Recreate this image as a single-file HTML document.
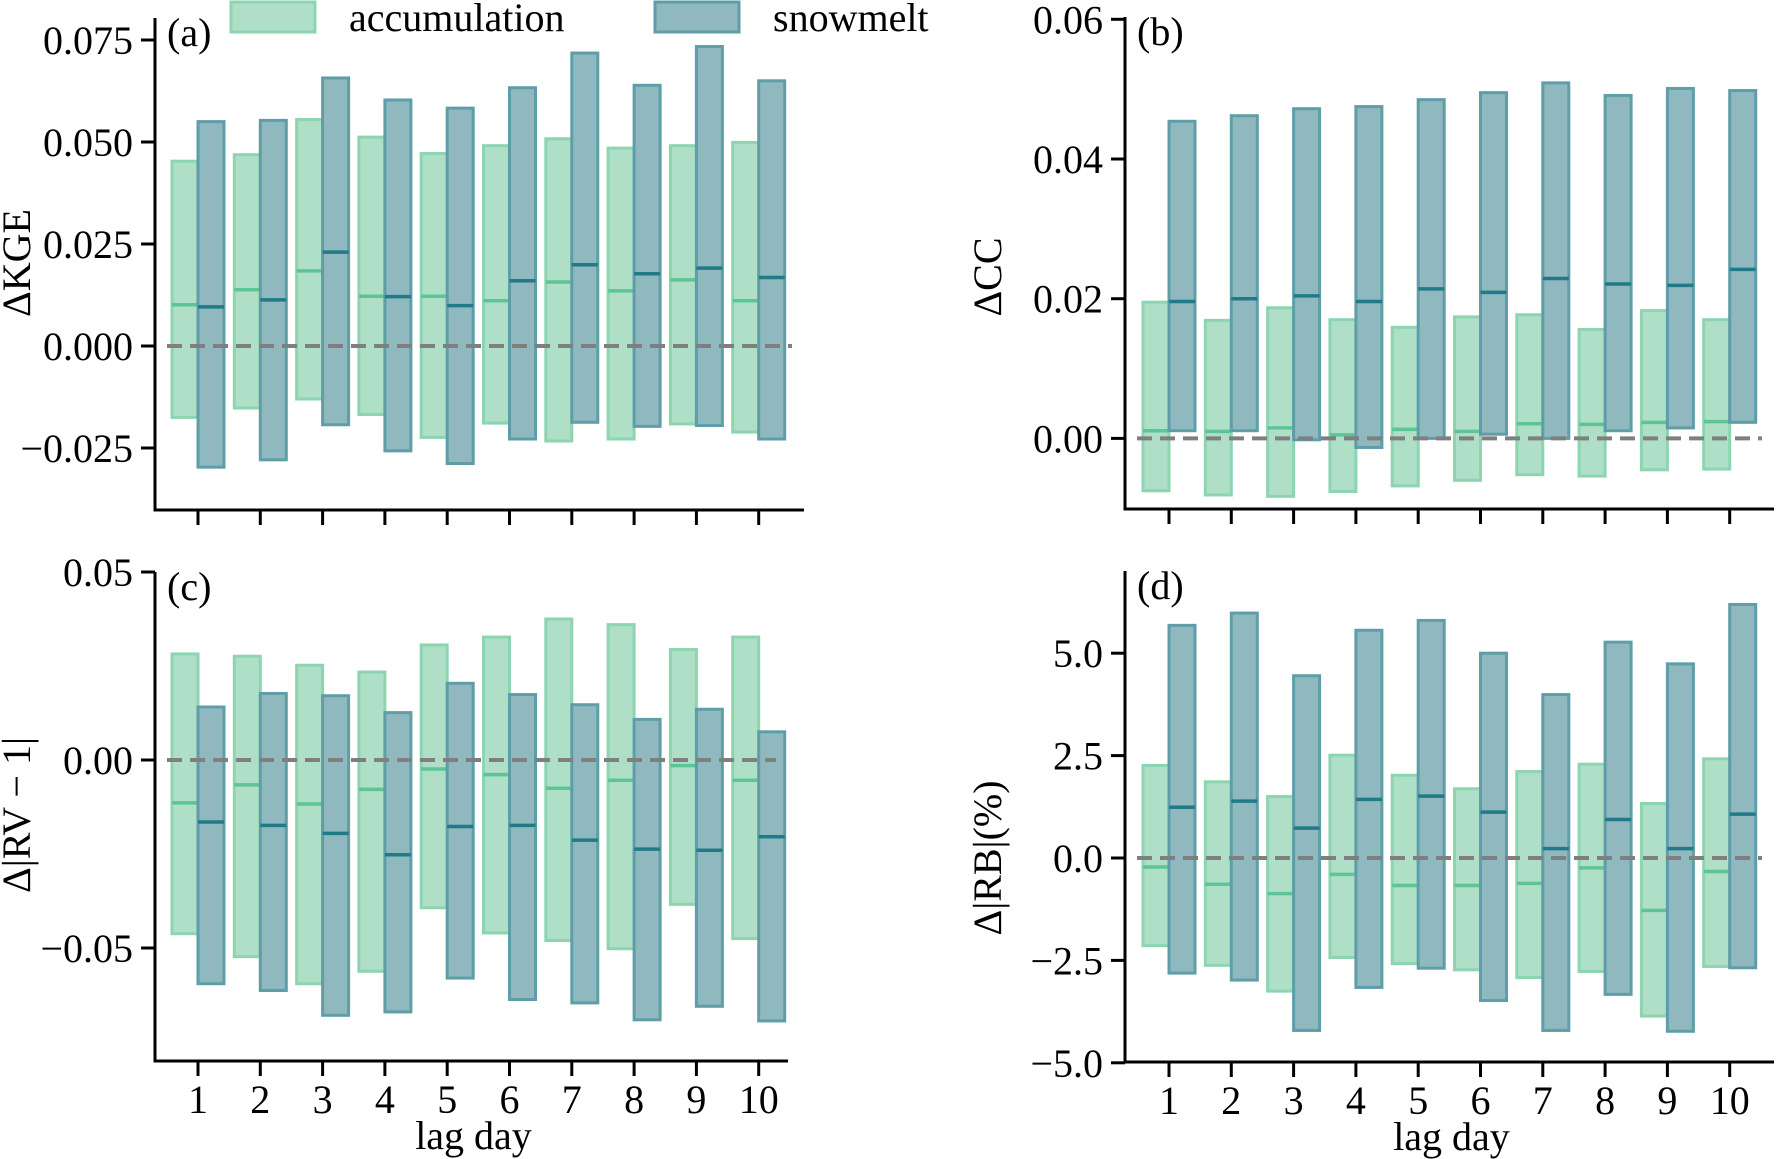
<!DOCTYPE html>
<html><head><meta charset="utf-8"><style>
html,body{margin:0;padding:0;background:#fff;}
svg{display:block;font-family:"Liberation Serif","Times New Roman","Nimbus Roman","Nimbus Roman No9 L","DejaVu Serif",serif;}
</style></head><body>
<svg id="fig" width="1776" height="1159" viewBox="0 0 1776 1159" xmlns="http://www.w3.org/2000/svg">
<g>
<rect x="231" y="2" width="84" height="30" fill="#afdfc7" stroke="#8cd5b0" stroke-width="3"/>
<text x="349" y="31" font-size="40">accumulation</text>
<rect x="655" y="2" width="84" height="30" fill="#8fb8bf" stroke="#5f9ea8" stroke-width="3"/>
<text x="773" y="31" font-size="40">snowmelt</text>
</g>
</svg>
<script>
const days = [1,2,3,4,5,6,7,8,9,10];
// panel a: KGE
const aAccLow = [-0.0175,-0.0152,-0.0130,-0.0168,-0.0224,-0.0189,-0.0233,-0.0228,-0.0191,-0.0211];
const aAccMed = [0.0101,0.0138,0.0184,0.0122,0.0122,0.0111,0.0157,0.0135,0.0162,0.0111];
const aAccHigh = [0.0453,0.0469,0.0555,0.0512,0.0472,0.0491,0.0508,0.0485,0.0491,0.0499];
const aSnowLow = [-0.0297,-0.0279,-0.0193,-0.0257,-0.0288,-0.0228,-0.0187,-0.0197,-0.0195,-0.0228];
const aSnowMed = [0.0096,0.0113,0.0230,0.0121,0.0099,0.0160,0.0199,0.0177,0.0191,0.0168];
const aSnowHigh = [0.0550,0.0553,0.0657,0.0603,0.0583,0.0633,0.0718,0.0639,0.0734,0.0650];
const aTicks = ["0.075","0.050","0.025","0.000","\u22120.025"];
const aTickVals = [0.075,0.05,0.025,0,-0.025];
// panel b: CC
const bAccLow = [-0.0075,-0.0081,-0.0083,-0.0076,-0.0068,-0.0060,-0.0052,-0.0054,-0.0045,-0.0044];
const bAccMed = [0.0011,0.0010,0.0015,0.0005,0.0013,0.0010,0.0021,0.0020,0.0023,0.0024];
const bAccHigh = [0.0195,0.0169,0.0187,0.0170,0.0159,0.0174,0.0177,0.0156,0.0183,0.0170];
const bSnowLow = [0.0011,0.0011,-0.0002,-0.0013,0.0000,0.0006,0.0000,0.0011,0.0015,0.0023];
const bSnowMed = [0.0196,0.0200,0.0204,0.0196,0.0214,0.0209,0.0229,0.0221,0.0219,0.0242];
const bSnowHigh = [0.0454,0.0462,0.0472,0.0475,0.0485,0.0495,0.0509,0.0491,0.0501,0.0498];
const bTicks = ["0.06","0.04","0.02","0.00"];
const bTickVals = [0.06,0.04,0.02,0];
// panel c: |RV-1|
const cAccLow = [-0.0462,-0.0523,-0.0595,-0.0562,-0.0393,-0.0460,-0.0480,-0.0502,-0.0384,-0.0475];
const cAccMed = [-0.0114,-0.0066,-0.0117,-0.0078,-0.0024,-0.0039,-0.0075,-0.0054,-0.0015,-0.0054];
const cAccHigh = [0.0282,0.0276,0.0252,0.0234,0.0306,0.0327,0.0375,0.0360,0.0294,0.0327];
const cSnowLow = [-0.0595,-0.0613,-0.0679,-0.0670,-0.0580,-0.0637,-0.0646,-0.0691,-0.0655,-0.0694];
const cSnowMed = [-0.0165,-0.0174,-0.0195,-0.0252,-0.0177,-0.0174,-0.0213,-0.0237,-0.0240,-0.0204];
const cSnowHigh = [0.0141,0.0177,0.0171,0.0126,0.0204,0.0174,0.0147,0.0108,0.0135,0.0075];
const cTicks = ["0.05","0.00","\u22120.05"];
const cTickVals = [0.05,0,-0.05];
// panel d: |RB| (%)
const dAccLow = [-2.14,-2.62,-3.25,-2.43,-2.58,-2.73,-2.92,-2.77,-3.86,-2.65];
const dAccMed = [-0.22,-0.64,-0.87,-0.40,-0.67,-0.67,-0.62,-0.24,-1.28,-0.33];
const dAccHigh = [2.26,1.86,1.50,2.51,2.02,1.69,2.11,2.29,1.33,2.42];
const dSnowLow = [-2.81,-2.98,-4.21,-3.16,-2.69,-3.48,-4.21,-3.33,-4.23,-2.68];
const dSnowMed = [1.24,1.39,0.73,1.43,1.51,1.12,0.23,0.94,0.23,1.07];
const dSnowHigh = [5.68,5.98,4.45,5.56,5.80,5.00,3.99,5.27,4.74,6.19];
const dTicks = ["5.0","2.5","0.0","\u22122.5","\u22125.0"];
const dTickVals = [5,2.5,0,-2.5,-5];

const NS = "http://www.w3.org/2000/svg";
const svg = document.getElementById('fig');
function mk(tag, attrs, parent, txt){
  const e = document.createElementNS(NS, tag);
  for (const k in attrs) e.setAttribute(k, attrs[k]);
  if (txt !== undefined) e.textContent = txt;
  parent.appendChild(e);
  return e;
}
function panel(cfg){
  const g = mk('g', {}, svg);
  
  
  const y = v => cfg.y0 - v / cfg.unit * cfg.unitPx;
  const x = d => cfg.t0 + (d - 1) * 62.3;
  days.forEach((d, i) => {
    const xa = x(d);
    const r1 = mk('rect', {x: xa - 26, y: y(cfg.accHigh[i]), width: 26, height: y(cfg.accLow[i]) - y(cfg.accHigh[i]), fill: '#afdfc7', stroke: '#8cd5b0', 'stroke-width': 3}, g);
    
    
    const m1 = mk('line', {x1: xa - 26, x2: xa, y1: y(cfg.accMed[i]), y2: y(cfg.accMed[i]), stroke: '#5cc495', 'stroke-width': 3.5}, g);
    
    
    const r2 = mk('rect', {x: xa, y: y(cfg.snowHigh[i]), width: 26, height: y(cfg.snowLow[i]) - y(cfg.snowHigh[i]), fill: '#8fb8bf', stroke: '#5f9ea8', 'stroke-width': 3}, g);
    
    
    const m2 = mk('line', {x1: xa, x2: xa + 26, y1: y(cfg.snowMed[i]), y2: y(cfg.snowMed[i]), stroke: '#207a87', 'stroke-width': 3.5}, g);
    
    
  });
  const zl = mk('line', {x1: cfg.sx + 12, x2: cfg.xEnd - 12, y1: y(0), y2: y(0), stroke: '#7f7f7f', 'stroke-width': 4, 'stroke-dasharray': '15,8'}, g);
  
  
  const ys = mk('line', {x1: cfg.sx, x2: cfg.sx, y1: cfg.top, y2: cfg.bottom, stroke: '#000', 'stroke-width': 3}, g);
  
  
  const xs = mk('line', {x1: cfg.sx - 1.5, x2: cfg.xEnd, y1: cfg.bottom, y2: cfg.bottom, stroke: '#000', 'stroke-width': 3}, g);
  
  
  cfg.tickVals.forEach((v, i) => {
    const tk = mk('line', {x1: cfg.sx - 14, x2: cfg.sx, y1: y(v), y2: y(v), stroke: '#000', 'stroke-width': 3}, g);
    
    
    const tl = mk('text', {x: cfg.sx - 22, y: y(v) + 14, 'font-size': 40, 'text-anchor': 'end'}, g, cfg.ticks[i]);
    
    
  });
  days.forEach(d => {
    const tk = mk('line', {x1: x(d), x2: x(d), y1: cfg.bottom, y2: cfg.bottom + 15, stroke: '#000', 'stroke-width': 3}, g);
    
    
    if (cfg.xLabels) {
      const tl = mk('text', {x: x(d), y: cfg.bottom + 52, 'font-size': 40, 'text-anchor': 'middle'}, g, String(d));
      
      
    }
  });
  if (cfg.xLabels) {
    const xt = mk('text', {x: (cfg.sx + cfg.xEnd) / 2 + 2, y: cfg.bottom + 88, 'font-size': 40, 'text-anchor': 'middle'}, g, 'lag day');
    
    
  }
  const yt = mk('text', {x: 0, y: 0, 'font-size': 40, 'text-anchor': 'middle', transform: 'translate(' + cfg.ylx + ',' + cfg.yly + ') rotate(-90)'}, g, cfg.ylabel);
  
  
  const pl = mk('text', {x: cfg.sx + 12, y: cfg.top + 28, 'font-size': 40}, g, '(' + cfg.id + ')');
  
  
}
panel({id:'a', sx:155, top:18, bottom:510, xEnd:804, t0:198, y0:346, unit:0.025, unitPx:102,
  accLow:aAccLow, accMed:aAccMed, accHigh:aAccHigh, snowLow:aSnowLow, snowMed:aSnowMed, snowHigh:aSnowHigh,
  ticks:aTicks, tickVals:aTickVals, xLabels:false, ylabel:'\u0394KGE', ylx:30, yly:263});
panel({id:'b', sx:1125, top:17, bottom:509, xEnd:1774, t0:1169, y0:438.4, unit:0.02, unitPx:139.7,
  accLow:bAccLow, accMed:bAccMed, accHigh:bAccHigh, snowLow:bSnowLow, snowMed:bSnowMed, snowHigh:bSnowHigh,
  ticks:bTicks, tickVals:bTickVals, xLabels:false, ylabel:'\u0394CC', ylx:1001, yly:277});
panel({id:'c', sx:155, top:572, bottom:1061, xEnd:788, t0:198, y0:760, unit:0.05, unitPx:188,
  accLow:cAccLow, accMed:cAccMed, accHigh:cAccHigh, snowLow:cSnowLow, snowMed:cSnowMed, snowHigh:cSnowHigh,
  ticks:cTicks, tickVals:cTickVals, xLabels:true, ylabel:'\u0394|RV \u2212 1|', ylx:30, yly:815});
panel({id:'d', sx:1125, top:571, bottom:1062, xEnd:1774, t0:1169, y0:858, unit:2.5, unitPx:102.4,
  accLow:dAccLow, accMed:dAccMed, accHigh:dAccHigh, snowLow:dSnowLow, snowMed:dSnowMed, snowHigh:dSnowHigh,
  ticks:dTicks, tickVals:dTickVals, xLabels:true, ylabel:'\u0394|RB|(%)', ylx:1001, yly:858});
</script>
</body></html>
